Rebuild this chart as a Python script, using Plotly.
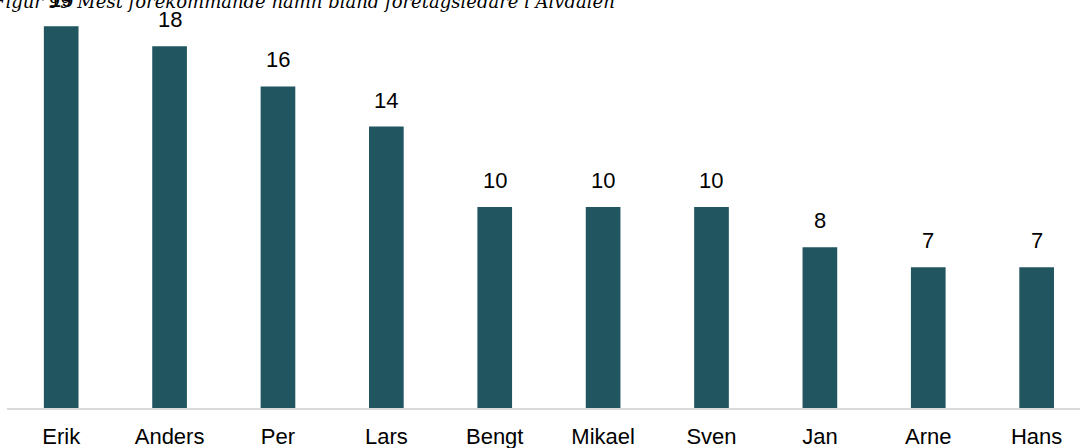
import plotly.graph_objects as go

names = ["Erik", "Anders", "Per", "Lars", "Bengt", "Mikael", "Sven", "Jan", "Arne", "Hans"]
counts = [19, 18, 16, 14, 10, 10, 10, 8, 7, 7]
title_text = "Figur 99 Mest förekommande namn bland företagsledare i Älvdalen"

bar_color = "#215660"

fig = go.Figure()
fig.add_trace(go.Bar(x=names, y=counts, marker_color=bar_color, width=0.32,
                     marker_line_width=0))

for n, c in zip(names, counts):
    fig.add_annotation(x=n, y=c, text=str(c), showarrow=False, yanchor="bottom",
                       yshift=12, font=dict(family="Liberation Sans, Arial", size=22, color="#000000"))

fig.add_annotation(xref="paper", yref="paper", x=0, y=1, xanchor="left", yanchor="bottom",
                   xshift=-17, yshift=-14, text="<i>" + title_text + "</i>", showarrow=False,
                   font=dict(family="DejaVu Serif, serif", size=18, color="#000000"))

fig.update_layout(
    width=1080, height=448,
    margin=dict(l=7, r=0, t=0, b=40),
    plot_bgcolor="white", paper_bgcolor="white",
    showlegend=False,
    xaxis=dict(range=[-0.5, 9.4], showgrid=False, zeroline=False,
               showline=True, linecolor="#d9d9d9", linewidth=2,
               ticks="", ticklabelstandoff=8,
               tickfont=dict(family="Liberation Sans, Arial", size=22, color="#000000")),
    yaxis=dict(range=[0, 20.3], visible=False),
)

fig.write_html("out.html", config={"displayModeBar": False},
               post_script="document.body.style.margin='0px';")
